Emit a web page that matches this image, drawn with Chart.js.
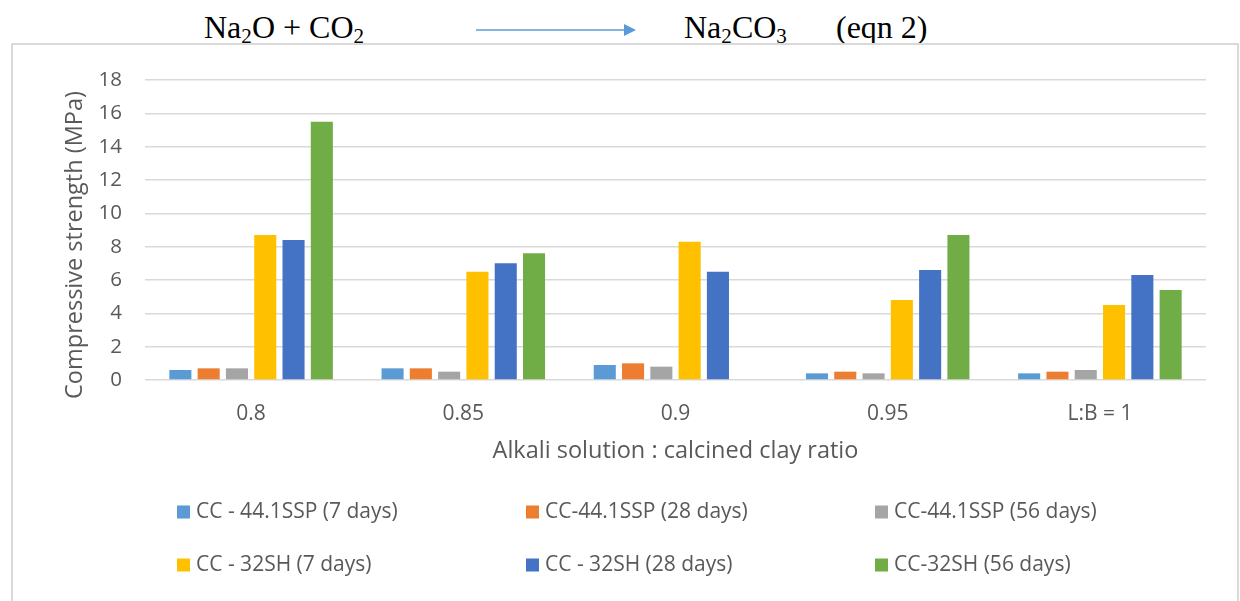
<!DOCTYPE html>
<html>
<head>
<meta charset="utf-8">
<script src="https://cdn.jsdelivr.net/npm/chart.js@4.4.1/dist/chart.umd.min.js"></script>
<style>
  html, body { margin: 0; padding: 0; background: #ffffff; width: 1240px; height: 601px; overflow: hidden; position: relative; }
  .eq { position: absolute; top: 12px; font-family: "Liberation Serif", "Times New Roman", serif; font-size: 32px; line-height: 31px; color: #000; white-space: nowrap; }
  .eq sub { font-size: 0.66em; vertical-align: -0.22em; line-height: 0; }
  #box { position: absolute; left: 11px; top: 43px; width: 1228px; height: 620px; border: 2px solid #D9D9D9; box-sizing: border-box; }
  #c { position: absolute; left: 0; top: 0; }
</style>
</head>
<body>
<div class="eq" style="left:204px">Na<sub>2</sub>O + CO<sub>2</sub></div>
<svg style="position:absolute;left:470px;top:20px" width="170" height="20">
  <line x1="6" y1="10" x2="156" y2="10" stroke="#5B9BD5" stroke-width="1.5"/>
  <polygon points="154,4 166,10 154,16" fill="#5B9BD5"/>
</svg>
<div class="eq" style="left:684px">Na<sub>2</sub>CO<sub>3</sub></div>
<div class="eq" style="left:836px">(eqn 2)</div>
<div id="box"></div>
<canvas id="c" width="1240" height="601"></canvas>
<script>
const categories = ["0.8", "0.85", "0.9", "0.95", "L:B = 1"];
const seriesNames = ["CC - 44.1SSP (7 days)", "CC-44.1SSP (28 days)", "CC-44.1SSP (56 days)",
                     "CC - 32SH (7 days)", "CC - 32SH (28 days)", "CC-32SH (56 days)"];
const ssp7  = [0.6, 0.7, 0.9, 0.4, 0.4];
const ssp28 = [0.7, 0.7, 1.0, 0.5, 0.5];
const ssp56 = [0.7, 0.5, 0.8, 0.4, 0.6];
const sh7   = [8.7, 6.5, 8.3, 4.8, 4.5];
const sh28  = [8.4, 7.0, 6.5, 6.6, 6.3];
const sh56  = [15.5, 7.6, null, 8.7, 5.4];
const seriesColors = ["#5B9BD5", "#ED7D31", "#A5A5A5", "#FFC000", "#4472C4", "#70AD47"];
const yTitle = "Compressive strength (MPa)";
const xTitle = "Alkali solution : calcined clay ratio";

const TXT = "#595959";
const FONT = "'Open Sans', 'Noto Sans', sans-serif";

const allSeries = [ssp7, ssp28, ssp56, sh7, sh28, sh56];

const extras = {
  id: 'extras',
  afterDraw(chart) {
    const ctx = chart.ctx;
    const a = chart.chartArea;
    ctx.save();
    ctx.fillStyle = TXT;
    ctx.font = "23.5px " + FONT;
    ctx.textAlign = 'center';
    ctx.textBaseline = 'middle';
    ctx.fillText(xTitle, (a.left + a.right) / 2, 451);
    ctx.save();
    ctx.translate(75, 245);
    ctx.rotate(-Math.PI / 2);
    ctx.fillText(yTitle, 0, 0);
    ctx.restore();
    // legend
    const cols = [177, 526, 875];
    const rows = [512, 565];
    ctx.font = "21px " + FONT;
    ctx.textAlign = 'left';
    chart.data.datasets.forEach((ds, i) => {
      const x = cols[i % 3];
      const y = rows[Math.floor(i / 3)];
      ctx.fillStyle = ds.backgroundColor;
      ctx.fillRect(x, y - 6.5, 13, 13);
      ctx.fillStyle = TXT;
      ctx.fillText(ds.label, x + 19, y);
    });
    ctx.restore();
  }
};

new Chart(document.getElementById('c'), {
  type: 'bar',
  data: {
    labels: categories,
    datasets: allSeries.map((d, i) => ({
      label: seriesNames[i],
      data: d,
      backgroundColor: seriesColors[i],
      borderWidth: 0,
      categoryPercentage: 0.80,
      barPercentage: 0.78
    }))
  },
  options: {
    responsive: false,
    animation: false,
    layout: { padding: { left: 0, right: 34, top: 80, bottom: 0 } },
    plugins: { legend: { display: false }, tooltip: { enabled: false }, title: { display: false } },
    scales: {
      x: {
        grid: { display: false },
        border: { display: false },
        ticks: { color: TXT, font: { family: FONT, size: 21 }, padding: 13 },
        afterFit(s) { s.height = 221; }
      },
      y: {
        min: 0, max: 18,
        grid: { color: "#D9D9D9", lineWidth: 1.5, drawTicks: false },
        border: { display: false },
        ticks: { stepSize: 2, color: TXT, font: { family: FONT, size: 20.5 }, padding: 23 },
        afterFit(s) { s.width = 145; }
      }
    }
  },
  plugins: [extras]
});
</script>
</body>
</html>
